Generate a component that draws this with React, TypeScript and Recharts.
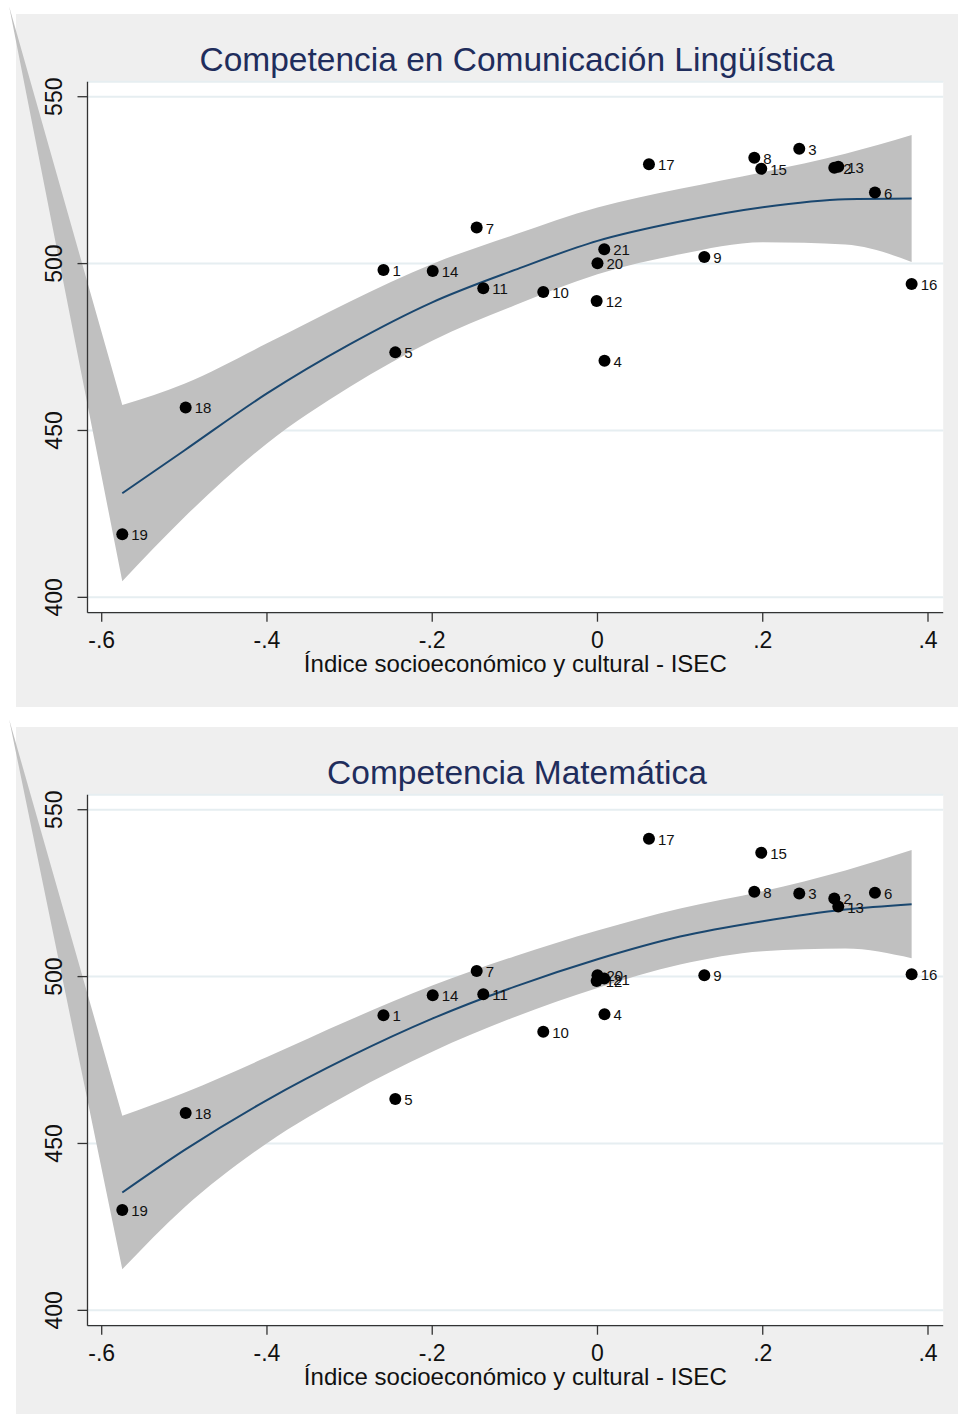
import React from "react";
import {
  ComposedChart,
  Area,
  Line,
  Scatter,
  XAxis,
  YAxis,
  CartesianGrid,
  Customized,
} from "recharts";

// ---------- data ----------
const REGION_IDS = ["1","2","3","4","5","6","7","8","9","10","11","12","13","14","15","16","17","18","19","20","21"];
const ISEC = [-0.259, 0.2866, 0.2442, 0.0085, -0.2447, 0.3358, -0.1462, 0.1898, 0.1293, -0.0656, -0.1382, -0.001, 0.2914, -0.1994, 0.1982, 0.3802, 0.0623, -0.4984, -0.5751, 0.0, 0.0082];
const LENGUA_SCORES = [498.1, 528.7, 534.4, 470.9, 473.4, 521.3, 510.8, 531.7, 502.0, 491.5, 492.6, 488.8, 529.0, 497.8, 528.4, 493.9, 529.8, 456.9, 418.9, 500.1, 504.3];
const MATE_SCORES = [488.4, 523.4, 524.9, 488.7, 463.3, 525.1, 501.7, 525.4, 500.4, 483.5, 494.7, 498.7, 521.0, 494.4, 537.1, 500.7, 541.3, 459.1, 430.1, 500.4, 499.4];

const FIT_X = [-0.5751, -0.5, -0.4, -0.3, -0.2, -0.1, 0, 0.1, 0.2, 0.3, 0.3802];
const LENGUA_FIT = [431.2, 444.0, 461.1, 475.8, 488.4, 498.1, 506.8, 512.6, 516.9, 519.3, 519.5];
const LENGUA_UPPER = [457.6, 464.0, 476.1, 488.6, 499.9, 508.7, 516.8, 522.4, 527.4, 532.9, 538.5];
const LENGUA_LOWER = [404.8, 424.0, 446.1, 463.0, 476.9, 487.5, 496.8, 502.8, 506.4, 505.7, 500.5];
const MATE_FIT = [435.3, 448.0, 463.0, 476.0, 487.4, 497.0, 505.2, 512.0, 516.6, 520.1, 521.7];
const MATE_UPPER = [458.3, 465.2, 475.9, 487.0, 497.3, 506.1, 513.8, 520.4, 525.6, 531.8, 537.9];
const MATE_LOWER = [412.3, 430.8, 450.1, 465.0, 477.5, 487.9, 496.6, 503.6, 507.6, 508.4, 505.5];

// stray closing vertex of the CI polygon (drawn outside the plot region in the original)
const BAND_CLOSE_X = -0.712;
const BAND_CLOSE_Y = 577;

const X_TICKS = [-0.6, -0.4, -0.2, 0, 0.2, 0.4];
const X_TICK_LABELS = ["-.6", "-.4", "-.2", "0", ".2", ".4"];
const Y_TICKS = [400, 450, 500, 550];

const X_TITLE = "Índice socioeconómico y cultural - ISEC";
const TITLE_LENGUA = "Competencia en Comunicación Lingüística";
const TITLE_MATE = "Competencia Matemática";

// ---------- styling ----------
const FONT = "'Liberation Sans', Arial, Helvetica, sans-serif";
const CHART_W = 958;
const CHART_H = 714;
const X_DOMAIN: [number, number] = [-0.6172, 0.4184];
const Y_DOMAIN: [number, number] = [395.4, 554.5];
const BAND_FILL = "#c0c0c0";

function buildPoints(scores: number[]) {
  return REGION_IDS.map((id, i) => ({ x: ISEC[i], y: scores[i], id }));
}
function buildFit(fit: number[]) {
  return FIT_X.map((x, i) => ({ x, y: fit[i] }));
}
function buildBand(lo: number[], hi: number[]) {
  return [
    { x: BAND_CLOSE_X, band: [BAND_CLOSE_Y, BAND_CLOSE_Y] },
    ...FIT_X.map((x, i) => ({ x, band: [lo[i], hi[i]] })),
  ];
}

// ---- curve: straight segment to the stray vertex, monotone-x cubic elsewhere ----
function monotoneTangents(q: number[][]) {
  const m = q.length;
  const t = new Array(m).fill(0);
  const sign = (v: number) => (v < 0 ? -1 : 1);
  for (let i = 1; i < m - 1; i++) {
    const h0 = q[i][0] - q[i - 1][0];
    const h1 = q[i + 1][0] - q[i][0];
    const s0 = (q[i][1] - q[i - 1][1]) / (h0 || 1e-9);
    const s1 = (q[i + 1][1] - q[i][1]) / (h1 || 1e-9);
    const p = (s0 * h1 + s1 * h0) / (h0 + h1 || 1e-9);
    t[i] = (sign(s0) + sign(s1)) * Math.min(Math.abs(s0), Math.abs(s1), 0.5 * Math.abs(p)) || 0;
  }
  if (m >= 3) {
    const hA = q[1][0] - q[0][0];
    t[0] = hA ? (3 * (q[1][1] - q[0][1]) / hA - t[1]) / 2 : t[1];
    const hB = q[m - 1][0] - q[m - 2][0];
    t[m - 1] = hB ? (3 * (q[m - 1][1] - q[m - 2][1]) / hB - t[m - 2]) / 2 : t[m - 2];
  }
  return t;
}

function drawMonotone(ctx: any, q: number[][]) {
  if (q.length < 2) return;
  if (q.length === 2) {
    ctx.lineTo(q[1][0], q[1][1]);
    return;
  }
  const t = monotoneTangents(q);
  for (let i = 0; i < q.length - 1; i++) {
    const [x0, y0] = q[i];
    const [x1, y1] = q[i + 1];
    const dx = (x1 - x0) / 3;
    ctx.bezierCurveTo(x0 + dx, y0 + dx * t[i], x1 - dx, y1 - dx * t[i + 1], x1, y1);
  }
}

function bandCurve(ctx: any) {
  let pts: number[][] = [];
  let line = NaN;
  return {
    areaStart() {
      line = 0;
    },
    areaEnd() {
      line = NaN;
    },
    lineStart() {
      pts = [];
    },
    point(x: number, y: number) {
      pts.push([+x, +y]);
    },
    lineEnd() {
      const n = pts.length;
      if (n > 0) {
        if (line === 1) ctx.lineTo(pts[0][0], pts[0][1]);
        else ctx.moveTo(pts[0][0], pts[0][1]);
        if (line === 1) {
          // lower edge (right to left): smooth part, then straight to the stray vertex
          drawMonotone(ctx, pts.slice(0, n - 1));
          if (n > 1) ctx.lineTo(pts[n - 1][0], pts[n - 1][1]);
        } else {
          // upper edge (left to right): straight from the stray vertex, then smooth
          if (n > 1) ctx.lineTo(pts[1][0], pts[1][1]);
          drawMonotone(ctx, pts.slice(1));
        }
      }
      if (line || (line !== 0 && n === 1)) ctx.closePath();
      line = 1 - line;
    },
  };
}

const PointWithLabel = (props: any) => {
  const { cx, cy, payload } = props;
  if (cx == null || cy == null) return null;
  return (
    <g>
      <circle cx={cx} cy={cy} r={6} fill="#000" />
      <text x={cx + 9} y={cy + 6} fontSize={15} fill="#111" fontFamily={FONT}>
        {payload.id}
      </text>
    </g>
  );
};

const XTick = (props: any) => {
  const { x, y, payload } = props;
  const idx = X_TICKS.indexOf(payload.value);
  const label = idx >= 0 ? X_TICK_LABELS[idx] : String(payload.value);
  return (
    <text x={x} y={y + 26} textAnchor="middle" fontSize={23} fill="#111" fontFamily={FONT}>
      {label}
    </text>
  );
};

const YTick = (props: any) => {
  const { x, y, payload } = props;
  return (
    <text
      x={x}
      y={y}
      transform={`rotate(-90 ${x} ${y})`}
      textAnchor="middle"
      fontSize={23}
      fill="#111"
      fontFamily={FONT}
    >
      {payload.value}
    </text>
  );
};

function Panel({ title, scores, fit, lo, hi, top }: any) {
  const points = buildPoints(scores);
  const fitData = buildFit(fit);
  const bandData = buildBand(lo, hi);
  return (
    <>
      <div
        style={{
          position: "absolute",
          left: 16,
          top: top + 14,
          width: 942,
          height: 693,
          background: "#efefef",
        }}
      />
      <div className="stata-chart" style={{ position: "absolute", left: 0, top, width: CHART_W, height: CHART_H }}>
        <ComposedChart
          width={CHART_W}
          height={CHART_H}
          margin={{ top: 81.7, right: 14.8, bottom: 0, left: 0 }}
        >
          <CartesianGrid vertical={false} stroke="#e6eef1" strokeWidth={2} fill="#ffffff" fillOpacity={1} />
          <Area
            data={bandData}
            dataKey="band"
            type={bandCurve as any}
            stroke="none"
            fill={BAND_FILL}
            fillOpacity={1}
            dot={false}
            activeDot={false}
            isAnimationActive={false}
          />
          <Line
            data={fitData}
            dataKey="y"
            type="monotone"
            stroke="#1a476f"
            strokeWidth={2}
            dot={false}
            activeDot={false}
            isAnimationActive={false}
          />
          <Scatter data={points} dataKey="y" shape={PointWithLabel} isAnimationActive={false} />
          <XAxis
            type="number"
            dataKey="x"
            domain={X_DOMAIN}
            allowDataOverflow
            ticks={X_TICKS}
            interval={0}
            height={101.3}
            tickSize={9}
            tickMargin={0}
            axisLine={{ stroke: "#333", strokeWidth: 1.3 }}
            tickLine={{ stroke: "#333", strokeWidth: 1.3 }}
            tick={<XTick />}
          />
          <YAxis
            type="number"
            domain={Y_DOMAIN}
            allowDataOverflow
            ticks={Y_TICKS}
            interval={0}
            width={87.5}
            tickSize={10}
            tickMargin={15}
            axisLine={{ stroke: "#333", strokeWidth: 1.3 }}
            tickLine={{ stroke: "#333", strokeWidth: 1.3 }}
            tick={<YTick />}
          />
          <Customized
            component={() => (
              <g>
                <text x={517} y={71} textAnchor="middle" fontSize={33.5} fill="#1f2d5c" fontFamily={FONT}>
                  {title}
                </text>
                <text x={515.3} y={671.7} textAnchor="middle" fontSize={24} fill="#111" fontFamily={FONT}>
                  {X_TITLE}
                </text>
              </g>
            )}
          />
        </ComposedChart>
      </div>
    </>
  );
}

export default function App() {
  return (
    <div
      style={{
        position: "absolute",
        left: 0,
        top: 0,
        width: 958,
        height: 1414,
        overflow: "hidden",
        background: "#ffffff",
        fontFamily: FONT,
      }}
    >
      <style>{`.stata-chart [clip-path] { clip-path: none !important; } .stata-chart svg { overflow: visible; }`}</style>
      <Panel title={TITLE_LENGUA} scores={LENGUA_SCORES} fit={LENGUA_FIT} lo={LENGUA_LOWER} hi={LENGUA_UPPER} top={0} />
      <Panel title={TITLE_MATE} scores={MATE_SCORES} fit={MATE_FIT} lo={MATE_LOWER} hi={MATE_UPPER} top={713} />
    </div>
  );
}
